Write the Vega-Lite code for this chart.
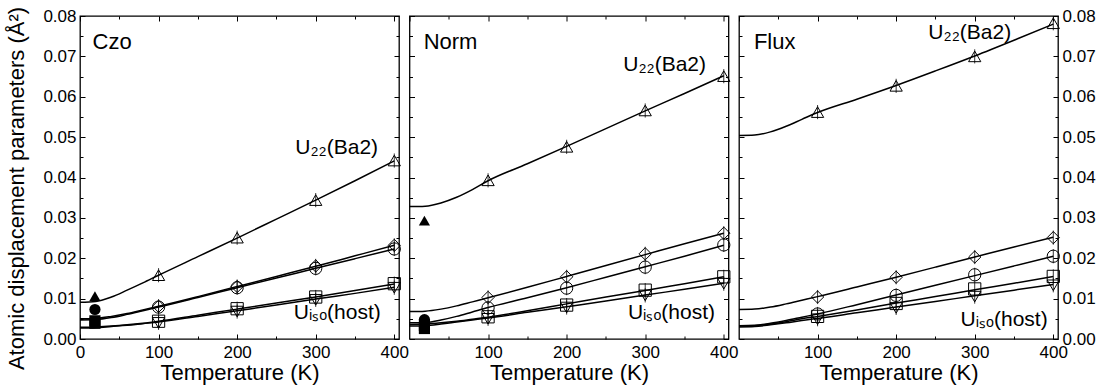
{
  "$schema": "https://vega.github.io/schema/vega-lite/v6.json",
  "padding": {"left": 5, "top": 5, "right": 2, "bottom": 2},
  "background": "white",
  "config": {
    "font": "Liberation Sans",
    "view": {"stroke": "black", "strokeWidth": 1.3},
    "axis": {"domain": false, "grid": false, "tickColor": "black", "tickWidth": 1, "labelColor": "black", "titleColor": "black", "labelFont": "Liberation Sans", "titleFont": "Liberation Sans", "labelFontSize": 17, "titleFontSize": 22, "titleFontWeight": "normal", "labelFlush": false, "labelOverlap": false}
  },
  "datasets": {
    "curves": [
      {"p":"Czo","s":"tri","T":0,"U":0.0091},{"p":"Czo","s":"tri","T":20,"U":0.0093},{"p":"Czo","s":"tri","T":40,"U":0.0104},{"p":"Czo","s":"tri","T":60,"U":0.0121},{"p":"Czo","s":"tri","T":80,"U":0.0139},{"p":"Czo","s":"tri","T":100,"U":0.0158},{"p":"Czo","s":"tri","T":150,"U":0.0204},{"p":"Czo","s":"tri","T":200,"U":0.0250},{"p":"Czo","s":"tri","T":250,"U":0.0297},{"p":"Czo","s":"tri","T":300,"U":0.0344},{"p":"Czo","s":"tri","T":350,"U":0.0392},{"p":"Czo","s":"tri","T":400,"U":0.0441},
      {"p":"Czo","s":"dia","T":0,"U":0.0050},{"p":"Czo","s":"dia","T":20,"U":0.0051},{"p":"Czo","s":"dia","T":40,"U":0.0056},{"p":"Czo","s":"dia","T":60,"U":0.0063},{"p":"Czo","s":"dia","T":80,"U":0.0072},{"p":"Czo","s":"dia","T":100,"U":0.0081},{"p":"Czo","s":"dia","T":150,"U":0.0105},{"p":"Czo","s":"dia","T":200,"U":0.0130},{"p":"Czo","s":"dia","T":250,"U":0.0155},{"p":"Czo","s":"dia","T":300,"U":0.0180},{"p":"Czo","s":"dia","T":350,"U":0.0206},{"p":"Czo","s":"dia","T":400,"U":0.0232},
      {"p":"Czo","s":"cir","T":0,"U":0.0047},{"p":"Czo","s":"cir","T":20,"U":0.0048},{"p":"Czo","s":"cir","T":40,"U":0.0053},{"p":"Czo","s":"cir","T":60,"U":0.0061},{"p":"Czo","s":"cir","T":80,"U":0.0070},{"p":"Czo","s":"cir","T":100,"U":0.0079},{"p":"Czo","s":"cir","T":150,"U":0.0103},{"p":"Czo","s":"cir","T":200,"U":0.0127},{"p":"Czo","s":"cir","T":250,"U":0.0151},{"p":"Czo","s":"cir","T":300,"U":0.0175},{"p":"Czo","s":"cir","T":350,"U":0.0199},{"p":"Czo","s":"cir","T":400,"U":0.0223},
      {"p":"Czo","s":"sq","T":0,"U":0.0029},{"p":"Czo","s":"sq","T":20,"U":0.0030},{"p":"Czo","s":"sq","T":40,"U":0.0032},{"p":"Czo","s":"sq","T":60,"U":0.0035},{"p":"Czo","s":"sq","T":80,"U":0.0039},{"p":"Czo","s":"sq","T":100,"U":0.0044},{"p":"Czo","s":"sq","T":150,"U":0.0059},{"p":"Czo","s":"sq","T":200,"U":0.0074},{"p":"Czo","s":"sq","T":250,"U":0.0089},{"p":"Czo","s":"sq","T":300,"U":0.0104},{"p":"Czo","s":"sq","T":350,"U":0.0120},{"p":"Czo","s":"sq","T":400,"U":0.0136},
      {"p":"Czo","s":"dn","T":0,"U":0.0027},{"p":"Czo","s":"dn","T":20,"U":0.0028},{"p":"Czo","s":"dn","T":40,"U":0.0031},{"p":"Czo","s":"dn","T":60,"U":0.0034},{"p":"Czo","s":"dn","T":80,"U":0.0038},{"p":"Czo","s":"dn","T":100,"U":0.0042},{"p":"Czo","s":"dn","T":150,"U":0.0056},{"p":"Czo","s":"dn","T":200,"U":0.0070},{"p":"Czo","s":"dn","T":250,"U":0.0084},{"p":"Czo","s":"dn","T":300,"U":0.0099},{"p":"Czo","s":"dn","T":350,"U":0.0113},{"p":"Czo","s":"dn","T":400,"U":0.0128},
      {"p":"Norm","s":"tri","T":0,"U":0.0328},{"p":"Norm","s":"tri","T":20,"U":0.0329},{"p":"Norm","s":"tri","T":40,"U":0.0337},{"p":"Norm","s":"tri","T":60,"U":0.0351},{"p":"Norm","s":"tri","T":80,"U":0.0370},{"p":"Norm","s":"tri","T":100,"U":0.0392},{"p":"Norm","s":"tri","T":150,"U":0.0434},{"p":"Norm","s":"tri","T":200,"U":0.0477},{"p":"Norm","s":"tri","T":250,"U":0.0521},{"p":"Norm","s":"tri","T":300,"U":0.0565},{"p":"Norm","s":"tri","T":350,"U":0.0608},{"p":"Norm","s":"tri","T":400,"U":0.0652},
      {"p":"Norm","s":"dia","T":0,"U":0.0068},{"p":"Norm","s":"dia","T":20,"U":0.0069},{"p":"Norm","s":"dia","T":40,"U":0.0074},{"p":"Norm","s":"dia","T":60,"U":0.0082},{"p":"Norm","s":"dia","T":80,"U":0.0092},{"p":"Norm","s":"dia","T":100,"U":0.0102},{"p":"Norm","s":"dia","T":150,"U":0.0128},{"p":"Norm","s":"dia","T":200,"U":0.0155},{"p":"Norm","s":"dia","T":250,"U":0.0182},{"p":"Norm","s":"dia","T":300,"U":0.0209},{"p":"Norm","s":"dia","T":350,"U":0.0236},{"p":"Norm","s":"dia","T":400,"U":0.0262},
      {"p":"Norm","s":"cir","T":0,"U":0.0040},{"p":"Norm","s":"cir","T":20,"U":0.0041},{"p":"Norm","s":"cir","T":40,"U":0.0047},{"p":"Norm","s":"cir","T":60,"U":0.0056},{"p":"Norm","s":"cir","T":80,"U":0.0067},{"p":"Norm","s":"cir","T":100,"U":0.0078},{"p":"Norm","s":"cir","T":150,"U":0.0102},{"p":"Norm","s":"cir","T":200,"U":0.0127},{"p":"Norm","s":"cir","T":250,"U":0.0153},{"p":"Norm","s":"cir","T":300,"U":0.0179},{"p":"Norm","s":"cir","T":350,"U":0.0205},{"p":"Norm","s":"cir","T":400,"U":0.0232},
      {"p":"Norm","s":"sq","T":0,"U":0.0036},{"p":"Norm","s":"sq","T":20,"U":0.0037},{"p":"Norm","s":"sq","T":40,"U":0.0040},{"p":"Norm","s":"sq","T":60,"U":0.0044},{"p":"Norm","s":"sq","T":80,"U":0.0049},{"p":"Norm","s":"sq","T":100,"U":0.0054},{"p":"Norm","s":"sq","T":150,"U":0.0070},{"p":"Norm","s":"sq","T":200,"U":0.0087},{"p":"Norm","s":"sq","T":250,"U":0.0104},{"p":"Norm","s":"sq","T":300,"U":0.0120},{"p":"Norm","s":"sq","T":350,"U":0.0137},{"p":"Norm","s":"sq","T":400,"U":0.0154},
      {"p":"Norm","s":"dn","T":0,"U":0.0032},{"p":"Norm","s":"dn","T":20,"U":0.0033},{"p":"Norm","s":"dn","T":40,"U":0.0037},{"p":"Norm","s":"dn","T":60,"U":0.0042},{"p":"Norm","s":"dn","T":80,"U":0.0047},{"p":"Norm","s":"dn","T":100,"U":0.0052},{"p":"Norm","s":"dn","T":150,"U":0.0066},{"p":"Norm","s":"dn","T":200,"U":0.0080},{"p":"Norm","s":"dn","T":250,"U":0.0094},{"p":"Norm","s":"dn","T":300,"U":0.0109},{"p":"Norm","s":"dn","T":350,"U":0.0123},{"p":"Norm","s":"dn","T":400,"U":0.0138},
      {"p":"Flux","s":"tri","T":0,"U":0.0504},{"p":"Flux","s":"tri","T":20,"U":0.0505},{"p":"Flux","s":"tri","T":40,"U":0.0513},{"p":"Flux","s":"tri","T":60,"U":0.0527},{"p":"Flux","s":"tri","T":80,"U":0.0544},{"p":"Flux","s":"tri","T":100,"U":0.0561},{"p":"Flux","s":"tri","T":150,"U":0.0594},{"p":"Flux","s":"tri","T":200,"U":0.0628},{"p":"Flux","s":"tri","T":250,"U":0.0664},{"p":"Flux","s":"tri","T":300,"U":0.0701},{"p":"Flux","s":"tri","T":350,"U":0.0740},{"p":"Flux","s":"tri","T":400,"U":0.0780},
      {"p":"Flux","s":"dia","T":0,"U":0.0073},{"p":"Flux","s":"dia","T":20,"U":0.0074},{"p":"Flux","s":"dia","T":40,"U":0.0079},{"p":"Flux","s":"dia","T":60,"U":0.0087},{"p":"Flux","s":"dia","T":80,"U":0.0096},{"p":"Flux","s":"dia","T":100,"U":0.0105},{"p":"Flux","s":"dia","T":150,"U":0.0129},{"p":"Flux","s":"dia","T":200,"U":0.0153},{"p":"Flux","s":"dia","T":250,"U":0.0178},{"p":"Flux","s":"dia","T":300,"U":0.0203},{"p":"Flux","s":"dia","T":350,"U":0.0228},{"p":"Flux","s":"dia","T":400,"U":0.0252},
      {"p":"Flux","s":"cir","T":0,"U":0.0033},{"p":"Flux","s":"cir","T":20,"U":0.0034},{"p":"Flux","s":"cir","T":40,"U":0.0039},{"p":"Flux","s":"cir","T":60,"U":0.0046},{"p":"Flux","s":"cir","T":80,"U":0.0054},{"p":"Flux","s":"cir","T":100,"U":0.0062},{"p":"Flux","s":"cir","T":150,"U":0.0085},{"p":"Flux","s":"cir","T":200,"U":0.0109},{"p":"Flux","s":"cir","T":250,"U":0.0133},{"p":"Flux","s":"cir","T":300,"U":0.0157},{"p":"Flux","s":"cir","T":350,"U":0.0181},{"p":"Flux","s":"cir","T":400,"U":0.0205},
      {"p":"Flux","s":"sq","T":0,"U":0.0032},{"p":"Flux","s":"sq","T":20,"U":0.0033},{"p":"Flux","s":"sq","T":40,"U":0.0037},{"p":"Flux","s":"sq","T":60,"U":0.0043},{"p":"Flux","s":"sq","T":80,"U":0.0050},{"p":"Flux","s":"sq","T":100,"U":0.0056},{"p":"Flux","s":"sq","T":150,"U":0.0072},{"p":"Flux","s":"sq","T":200,"U":0.0089},{"p":"Flux","s":"sq","T":250,"U":0.0105},{"p":"Flux","s":"sq","T":300,"U":0.0122},{"p":"Flux","s":"sq","T":350,"U":0.0138},{"p":"Flux","s":"sq","T":400,"U":0.0155},
      {"p":"Flux","s":"dn","T":0,"U":0.0030},{"p":"Flux","s":"dn","T":20,"U":0.0031},{"p":"Flux","s":"dn","T":40,"U":0.0035},{"p":"Flux","s":"dn","T":60,"U":0.0040},{"p":"Flux","s":"dn","T":80,"U":0.0046},{"p":"Flux","s":"dn","T":100,"U":0.0051},{"p":"Flux","s":"dn","T":150,"U":0.0065},{"p":"Flux","s":"dn","T":200,"U":0.0079},{"p":"Flux","s":"dn","T":250,"U":0.0093},{"p":"Flux","s":"dn","T":300,"U":0.0107},{"p":"Flux","s":"dn","T":350,"U":0.0121},{"p":"Flux","s":"dn","T":400,"U":0.0135}
    ],
    "points": [
      {"p":"Czo","s":"tri","T":100,"U":0.0158},{"p":"Czo","s":"tri","T":200,"U":0.0251},{"p":"Czo","s":"tri","T":300,"U":0.0344},{"p":"Czo","s":"tri","T":400,"U":0.0442},
      {"p":"Czo","s":"dia","T":100,"U":0.0081},{"p":"Czo","s":"dia","T":200,"U":0.0130},{"p":"Czo","s":"dia","T":300,"U":0.0181},{"p":"Czo","s":"dia","T":400,"U":0.0232},
      {"p":"Czo","s":"cir","T":100,"U":0.0079},{"p":"Czo","s":"cir","T":200,"U":0.0127},{"p":"Czo","s":"cir","T":300,"U":0.0175},{"p":"Czo","s":"cir","T":400,"U":0.0223},
      {"p":"Czo","s":"sq","T":100,"U":0.0044},{"p":"Czo","s":"sq","T":200,"U":0.0075},{"p":"Czo","s":"sq","T":300,"U":0.0104},{"p":"Czo","s":"sq","T":400,"U":0.0137},
      {"p":"Czo","s":"dn","T":100,"U":0.0040},{"p":"Czo","s":"dn","T":200,"U":0.0068},{"p":"Czo","s":"dn","T":300,"U":0.0097},{"p":"Czo","s":"dn","T":400,"U":0.0127},
      {"p":"Norm","s":"tri","T":100,"U":0.0393},{"p":"Norm","s":"tri","T":200,"U":0.0476},{"p":"Norm","s":"tri","T":300,"U":0.0566},{"p":"Norm","s":"tri","T":400,"U":0.0651},
      {"p":"Norm","s":"dia","T":100,"U":0.0103},{"p":"Norm","s":"dia","T":200,"U":0.0154},{"p":"Norm","s":"dia","T":300,"U":0.0211},{"p":"Norm","s":"dia","T":400,"U":0.0262},
      {"p":"Norm","s":"cir","T":100,"U":0.0077},{"p":"Norm","s":"cir","T":200,"U":0.0126},{"p":"Norm","s":"cir","T":300,"U":0.0178},{"p":"Norm","s":"cir","T":400,"U":0.0233},
      {"p":"Norm","s":"sq","T":100,"U":0.0055},{"p":"Norm","s":"sq","T":200,"U":0.0084},{"p":"Norm","s":"sq","T":300,"U":0.0121},{"p":"Norm","s":"sq","T":400,"U":0.0154},
      {"p":"Norm","s":"dn","T":100,"U":0.0050},{"p":"Norm","s":"dn","T":200,"U":0.0078},{"p":"Norm","s":"dn","T":300,"U":0.0108},{"p":"Norm","s":"dn","T":400,"U":0.0137},
      {"p":"Flux","s":"tri","T":100,"U":0.0562},{"p":"Flux","s":"tri","T":200,"U":0.0627},{"p":"Flux","s":"tri","T":300,"U":0.0700},{"p":"Flux","s":"tri","T":400,"U":0.0782},
      {"p":"Flux","s":"dia","T":100,"U":0.0104},{"p":"Flux","s":"dia","T":200,"U":0.0153},{"p":"Flux","s":"dia","T":300,"U":0.0203},{"p":"Flux","s":"dia","T":400,"U":0.0251},
      {"p":"Flux","s":"cir","T":100,"U":0.0062},{"p":"Flux","s":"cir","T":200,"U":0.0108},{"p":"Flux","s":"cir","T":300,"U":0.0159},{"p":"Flux","s":"cir","T":400,"U":0.0205},
      {"p":"Flux","s":"sq","T":100,"U":0.0056},{"p":"Flux","s":"sq","T":200,"U":0.0088},{"p":"Flux","s":"sq","T":300,"U":0.0124},{"p":"Flux","s":"sq","T":400,"U":0.0155},
      {"p":"Flux","s":"dn","T":100,"U":0.0049},{"p":"Flux","s":"dn","T":200,"U":0.0077},{"p":"Flux","s":"dn","T":300,"U":0.0105},{"p":"Flux","s":"dn","T":400,"U":0.0133}
    ],
    "filled": [
      {"p":"Czo","s":"tri","T":19,"U":0.0106},{"p":"Czo","s":"cir","T":19,"U":0.0073},{"p":"Czo","s":"sq","T":19,"U":0.0045},{"p":"Czo","s":"sq","T":19,"U":0.0039},
      {"p":"Norm","s":"tri","T":19,"U":0.0293},{"p":"Norm","s":"cir","T":19,"U":0.0048},{"p":"Norm","s":"sq","T":19,"U":0.0034},{"p":"Norm","s":"sq","T":19,"U":0.0026}
    ],
    "labels": [
      {"p":"Czo","t":"Czo","T":16,"U":0.0736,"k":"panel"},{"p":"Czo","t":"U₂₂(Ba2)","T":274,"U":0.0473,"k":"sym"},{"p":"Czo","t":"Uᵢₛₒ(host)","T":272,"U":0.0064,"k":"sym"},
      {"p":"Norm","t":"Norm","T":18,"U":0.0736,"k":"panel"},{"p":"Norm","t":"U₂₂(Ba2)","T":272,"U":0.0679,"k":"sym"},{"p":"Norm","t":"Uᵢₛₒ(host)","T":278,"U":0.0064,"k":"sym"},
      {"p":"Flux","t":"Flux","T":19,"U":0.0736,"k":"panel"},{"p":"Flux","t":"U₂₂(Ba2)","T":241,"U":0.0758,"k":"sym"},{"p":"Flux","t":"Uᵢₛₒ(host)","T":282,"U":0.0047,"k":"sym"}
    ]
  },
  "hconcat": [
    {
      "width": 319, "height": 323,
      "resolve": {"axis": {"x": "independent", "y": "independent"}},
      "layer": [
        {"data": {"name": "curves"}, "transform": [{"filter": "datum.p === 'Czo'"}],
         "mark": {"type": "line", "color": "black", "strokeWidth": 1.5, "interpolate": "monotone"},
         "encoding": {
           "x": {"field": "T", "type": "quantitative", "scale": {"domain": [0, 406], "nice": false, "zero": false}, "axis": {"orient": "bottom", "values": [0,100,200,300,400], "format": "d", "tickSize": -5, "labelPadding": 10, "title": "Temperature (K)", "titlePadding": 2}},
           "y": {"field": "U", "type": "quantitative", "scale": {"domain": [0, 0.08], "nice": false, "zero": false}, "axis": {"orient": "left", "values": [0,0.01,0.02,0.03,0.04,0.05,0.06,0.07,0.08], "format": ".2f", "tickSize": -5, "labelPadding": 9, "title": "Atomic displacement parameters (Å²)", "titlePadding": 14, "titleY": 172}},
           "detail": {"field": "s"}
         }},
        {"data": {"name": "points"}, "transform": [{"filter": "datum.p === 'Czo'"}],
         "mark": {"type": "point", "filled": false, "stroke": "black", "strokeWidth": 1, "size": 150, "opacity": 1},
         "encoding": {
           "x": {"field": "T", "type": "quantitative", "axis": null},
           "y": {"field": "U", "type": "quantitative", "axis": null},
           "shape": {"field": "s", "type": "nominal", "legend": null, "scale": {"domain": ["tri","dia","cir","sq","dn"], "range": ["triangle-up","diamond","circle","square","triangle-down"]}}
         }},
        {"data": {"name": "points"}, "transform": [{"filter": "datum.p === 'Czo'"}],
         "mark": {"type": "point", "shape": "M0,-1L0,1", "stroke": "black", "strokeWidth": 0.8, "size": 200, "filled": false, "opacity": 1},
         "encoding": {
           "x": {"field": "T", "type": "quantitative", "axis": null},
           "y": {"field": "U", "type": "quantitative", "axis": null}
         }},
        {"data": {"name": "filled"}, "transform": [{"filter": "datum.p === 'Czo'"}],
         "mark": {"type": "point", "filled": true, "color": "black", "size": 125, "opacity": 1},
         "encoding": {
           "x": {"field": "T", "type": "quantitative", "axis": null},
           "y": {"field": "U", "type": "quantitative", "axis": null},
           "shape": {"field": "s", "type": "nominal", "legend": null, "scale": {"domain": ["tri","dia","cir","sq","dn"], "range": ["triangle-up","diamond","circle","square","triangle-down"]}}
         }},
        {"data": {"name": "labels"}, "transform": [{"filter": "datum.p === 'Czo'"}],
         "mark": {"type": "text", "align": "left", "baseline": "middle", "font": "Liberation Sans", "color": "black"},
         "encoding": {
           "x": {"field": "T", "type": "quantitative", "axis": null},
           "y": {"field": "U", "type": "quantitative", "axis": null},
           "text": {"field": "t"},
           "size": {"field": "k", "type": "nominal", "legend": null, "scale": {"domain": ["panel","sym"], "range": [22, 21]}}
         }},
        {"data": {"name": "curves"}, "transform": [{"filter": "datum.p === 'Czo'"}],
         "mark": {"type": "point", "opacity": 0},
         "encoding": {
           "x": {"field": "T", "type": "quantitative", "axis": {"orient": "bottom", "values": [50,150,250,350], "tickSize": -3, "labels": false, "title": null}},
           "y": {"field": "U", "type": "quantitative", "axis": {"orient": "left", "values": [0.005,0.015,0.025,0.035,0.045,0.055,0.065,0.075], "tickSize": -3, "labels": false, "title": null}}
         }},
        {"data": {"name": "curves"}, "transform": [{"filter": "datum.p === 'Czo'"}],
         "mark": {"type": "point", "opacity": 0},
         "encoding": {
           "x": {"field": "T", "type": "quantitative", "axis": {"orient": "top", "values": [0,100,200,300,400], "tickSize": -5, "labels": false, "title": null}},
           "y": {"field": "U", "type": "quantitative", "axis": {"orient": "right", "values": [0,0.01,0.02,0.03,0.04,0.05,0.06,0.07,0.08], "tickSize": -5, "labels": false, "title": null}}
         }},
        {"data": {"name": "curves"}, "transform": [{"filter": "datum.p === 'Czo'"}],
         "mark": {"type": "point", "opacity": 0},
         "encoding": {
           "x": {"field": "T", "type": "quantitative", "axis": {"orient": "top", "values": [50,150,250,350], "tickSize": -3, "labels": false, "title": null}},
           "y": {"field": "U", "type": "quantitative", "axis": {"orient": "right", "values": [0.005,0.015,0.025,0.035,0.045,0.055,0.065,0.075], "tickSize": -3, "labels": false, "title": null}}
         }}
      ]
    },
    {
      "width": 319, "height": 323,
      "resolve": {"axis": {"x": "independent", "y": "independent"}},
      "layer": [
        {"data": {"name": "curves"}, "transform": [{"filter": "datum.p === 'Norm'"}],
         "mark": {"type": "line", "color": "black", "strokeWidth": 1.5, "interpolate": "monotone"},
         "encoding": {
           "x": {"field": "T", "type": "quantitative", "scale": {"domain": [0, 406], "nice": false, "zero": false}, "axis": {"orient": "bottom", "values": [100,200,300,400], "format": "d", "tickSize": -5, "labelPadding": 10, "title": "Temperature (K)", "titlePadding": 2}},
           "y": {"field": "U", "type": "quantitative", "scale": {"domain": [0, 0.08], "nice": false, "zero": false}, "axis": {"orient": "left", "values": [0,0.01,0.02,0.03,0.04,0.05,0.06,0.07,0.08], "tickSize": -5, "labels": false, "title": null}},
           "detail": {"field": "s"}
         }},
        {"data": {"name": "points"}, "transform": [{"filter": "datum.p === 'Norm'"}],
         "mark": {"type": "point", "filled": false, "stroke": "black", "strokeWidth": 1, "size": 150, "opacity": 1},
         "encoding": {
           "x": {"field": "T", "type": "quantitative", "axis": null},
           "y": {"field": "U", "type": "quantitative", "axis": null},
           "shape": {"field": "s", "type": "nominal", "legend": null, "scale": {"domain": ["tri","dia","cir","sq","dn"], "range": ["triangle-up","diamond","circle","square","triangle-down"]}}
         }},
        {"data": {"name": "points"}, "transform": [{"filter": "datum.p === 'Norm'"}],
         "mark": {"type": "point", "shape": "M0,-1L0,1", "stroke": "black", "strokeWidth": 0.8, "size": 200, "filled": false, "opacity": 1},
         "encoding": {
           "x": {"field": "T", "type": "quantitative", "axis": null},
           "y": {"field": "U", "type": "quantitative", "axis": null}
         }},
        {"data": {"name": "filled"}, "transform": [{"filter": "datum.p === 'Norm'"}],
         "mark": {"type": "point", "filled": true, "color": "black", "size": 125, "opacity": 1},
         "encoding": {
           "x": {"field": "T", "type": "quantitative", "axis": null},
           "y": {"field": "U", "type": "quantitative", "axis": null},
           "shape": {"field": "s", "type": "nominal", "legend": null, "scale": {"domain": ["tri","dia","cir","sq","dn"], "range": ["triangle-up","diamond","circle","square","triangle-down"]}}
         }},
        {"data": {"name": "labels"}, "transform": [{"filter": "datum.p === 'Norm'"}],
         "mark": {"type": "text", "align": "left", "baseline": "middle", "font": "Liberation Sans", "color": "black"},
         "encoding": {
           "x": {"field": "T", "type": "quantitative", "axis": null},
           "y": {"field": "U", "type": "quantitative", "axis": null},
           "text": {"field": "t"},
           "size": {"field": "k", "type": "nominal", "legend": null, "scale": {"domain": ["panel","sym"], "range": [22, 21]}}
         }},
        {"data": {"name": "curves"}, "transform": [{"filter": "datum.p === 'Norm'"}],
         "mark": {"type": "point", "opacity": 0},
         "encoding": {
           "x": {"field": "T", "type": "quantitative", "axis": {"orient": "bottom", "values": [50,150,250,350], "tickSize": -3, "labels": false, "title": null}},
           "y": {"field": "U", "type": "quantitative", "axis": {"orient": "left", "values": [0.005,0.015,0.025,0.035,0.045,0.055,0.065,0.075], "tickSize": -3, "labels": false, "title": null}}
         }},
        {"data": {"name": "curves"}, "transform": [{"filter": "datum.p === 'Norm'"}],
         "mark": {"type": "point", "opacity": 0},
         "encoding": {
           "x": {"field": "T", "type": "quantitative", "axis": {"orient": "top", "values": [0,100,200,300,400], "tickSize": -5, "labels": false, "title": null}},
           "y": {"field": "U", "type": "quantitative", "axis": {"orient": "right", "values": [0,0.01,0.02,0.03,0.04,0.05,0.06,0.07,0.08], "tickSize": -5, "labels": false, "title": null}}
         }},
        {"data": {"name": "curves"}, "transform": [{"filter": "datum.p === 'Norm'"}],
         "mark": {"type": "point", "opacity": 0},
         "encoding": {
           "x": {"field": "T", "type": "quantitative", "axis": {"orient": "top", "values": [50,150,250,350], "tickSize": -3, "labels": false, "title": null}},
           "y": {"field": "U", "type": "quantitative", "axis": {"orient": "right", "values": [0.005,0.015,0.025,0.035,0.045,0.055,0.065,0.075], "tickSize": -3, "labels": false, "title": null}}
         }}
      ]
    },
    {
      "width": 319, "height": 323,
      "resolve": {"axis": {"x": "independent", "y": "independent"}},
      "layer": [
        {"data": {"name": "curves"}, "transform": [{"filter": "datum.p === 'Flux'"}],
         "mark": {"type": "line", "color": "black", "strokeWidth": 1.5, "interpolate": "monotone"},
         "encoding": {
           "x": {"field": "T", "type": "quantitative", "scale": {"domain": [0, 406], "nice": false, "zero": false}, "axis": {"orient": "bottom", "values": [100,200,300,400], "format": "d", "tickSize": -5, "labelPadding": 10, "title": "Temperature (K)", "titlePadding": 2}},
           "y": {"field": "U", "type": "quantitative", "scale": {"domain": [0, 0.08], "nice": false, "zero": false}, "axis": {"orient": "left", "values": [0,0.01,0.02,0.03,0.04,0.05,0.06,0.07,0.08], "tickSize": -5, "labels": false, "title": null}},
           "detail": {"field": "s"}
         }},
        {"data": {"name": "points"}, "transform": [{"filter": "datum.p === 'Flux'"}],
         "mark": {"type": "point", "filled": false, "stroke": "black", "strokeWidth": 1, "size": 150, "opacity": 1},
         "encoding": {
           "x": {"field": "T", "type": "quantitative", "axis": null},
           "y": {"field": "U", "type": "quantitative", "axis": null},
           "shape": {"field": "s", "type": "nominal", "legend": null, "scale": {"domain": ["tri","dia","cir","sq","dn"], "range": ["triangle-up","diamond","circle","square","triangle-down"]}}
         }},
        {"data": {"name": "points"}, "transform": [{"filter": "datum.p === 'Flux'"}],
         "mark": {"type": "point", "shape": "M0,-1L0,1", "stroke": "black", "strokeWidth": 0.8, "size": 200, "filled": false, "opacity": 1},
         "encoding": {
           "x": {"field": "T", "type": "quantitative", "axis": null},
           "y": {"field": "U", "type": "quantitative", "axis": null}
         }},
        {"data": {"name": "labels"}, "transform": [{"filter": "datum.p === 'Flux'"}],
         "mark": {"type": "text", "align": "left", "baseline": "middle", "font": "Liberation Sans", "color": "black"},
         "encoding": {
           "x": {"field": "T", "type": "quantitative", "axis": null},
           "y": {"field": "U", "type": "quantitative", "axis": null},
           "text": {"field": "t"},
           "size": {"field": "k", "type": "nominal", "legend": null, "scale": {"domain": ["panel","sym"], "range": [22, 21]}}
         }},
        {"data": {"name": "curves"}, "transform": [{"filter": "datum.p === 'Flux'"}],
         "mark": {"type": "point", "opacity": 0},
         "encoding": {
           "x": {"field": "T", "type": "quantitative", "axis": {"orient": "bottom", "values": [50,150,250,350], "tickSize": -3, "labels": false, "title": null}},
           "y": {"field": "U", "type": "quantitative", "axis": {"orient": "left", "values": [0.005,0.015,0.025,0.035,0.045,0.055,0.065,0.075], "tickSize": -3, "labels": false, "title": null}}
         }},
        {"data": {"name": "curves"}, "transform": [{"filter": "datum.p === 'Flux'"}],
         "mark": {"type": "point", "opacity": 0},
         "encoding": {
           "x": {"field": "T", "type": "quantitative", "axis": {"orient": "top", "values": [0,100,200,300,400], "tickSize": -5, "labels": false, "title": null}},
           "y": {"field": "U", "type": "quantitative", "axis": {"orient": "right", "values": [0,0.01,0.02,0.03,0.04,0.05,0.06,0.07,0.08], "format": ".2f", "tickSize": -5, "labelPadding": 9, "title": null}}
         }},
        {"data": {"name": "curves"}, "transform": [{"filter": "datum.p === 'Flux'"}],
         "mark": {"type": "point", "opacity": 0},
         "encoding": {
           "x": {"field": "T", "type": "quantitative", "axis": {"orient": "top", "values": [50,150,250,350], "tickSize": -3, "labels": false, "title": null}},
           "y": {"field": "U", "type": "quantitative", "axis": {"orient": "right", "values": [0.005,0.015,0.025,0.035,0.045,0.055,0.065,0.075], "tickSize": -3, "labels": false, "title": null}}
         }}
      ]
    }
  ],
  "spacing": 10.5,
  "bounds": "flush"
}
